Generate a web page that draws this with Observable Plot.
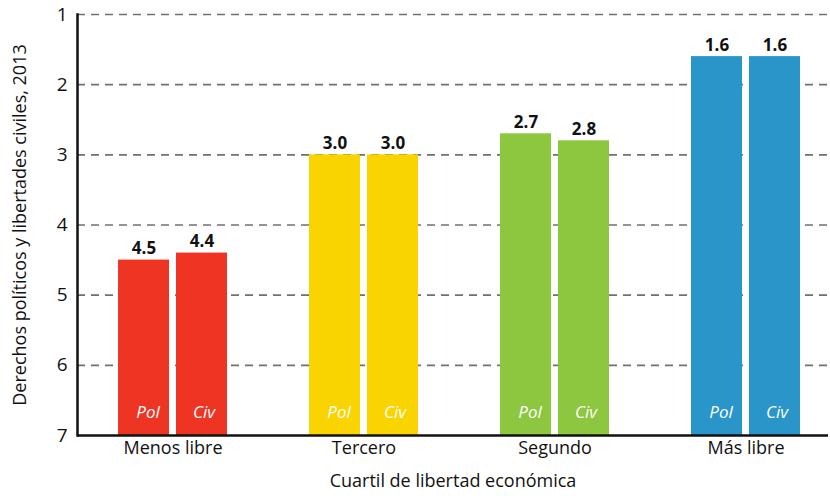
<!DOCTYPE html>
<html>
<head>
<meta charset="utf-8">
<script src="https://cdn.jsdelivr.net/npm/d3@7"></script>
<script src="https://cdn.jsdelivr.net/npm/@observablehq/plot@0.6"></script>
<style>
  html, body { margin: 0; padding: 0; background: #fff; }
  #chart { width: 830px; height: 496px; }
</style>
</head>
<body>
<div id="chart"></div>
<script>
const groups = ["Menos libre", "Tercero", "Segundo", "Más libre"];
const polValues = [4.5, 3.0, 2.7, 1.6];
const civValues = [4.4, 3.0, 2.8, 1.6];
const groupColors = ["#EE3524", "#FAD400", "#8DC63F", "#2A95C9"];
const yTicks = [1, 2, 3, 4, 5, 6, 7];
const gridTicks = [1, 2, 3, 4, 5, 6];
const seriesNames = ["Pol", "Civ"];
const xTitle = "Cuartil de libertad económica";
const yTitle = "Derechos políticos y libertades civiles, 2013";

const polData = groups.map((g, i) => ({group: g, kind: seriesNames[0], value: polValues[i], color: groupColors[i]}));
const civData = groups.map((g, i) => ({group: g, kind: seriesNames[1], value: civValues[i], color: groupColors[i]}));

const chart = Plot.plot({
  width: 830,
  height: 496,
  marginLeft: 77,
  marginRight: 2,
  marginTop: 14,
  marginBottom: 61,
  style: {fontFamily: "'Open Sans', 'Noto Sans', sans-serif", fontSize: "16px", color: "#111"},
  x: {
    domain: groups,
    paddingInner: 0.43,
    paddingOuter: 0.176,
    align: 0.59
  },
  y: {
    domain: [1, 7],
    reverse: true
  },
  marks: [
    Plot.ruleY(gridTicks, {stroke: "#707070", strokeWidth: 1.6, strokeDasharray: "8,6"}),
    Plot.barY(polData, {x: "group", y1: 7, y2: "value", fill: "color", insetRight: 58}),
    Plot.barY(civData, {x: "group", y1: 7, y2: "value", fill: "color", insetLeft: 58}),
    Plot.text(polData, {x: "group", y: "value", text: d => d.value.toFixed(1), dx: -29, dy: -6, lineAnchor: "bottom", fontWeight: "bold", fontSize: 17, fill: "#111"}),
    Plot.text(civData, {x: "group", y: "value", text: d => d.value.toFixed(1), dx: 29, dy: -6, lineAnchor: "bottom", fontWeight: "bold", fontSize: 17, fill: "#111"}),
    Plot.text(polData, {x: "group", y: 7, text: "kind", dx: -25, dy: -23, fill: "white", fontStyle: "italic", fontSize: 17}),
    Plot.text(civData, {x: "group", y: 7, text: "kind", dx: 31, dy: -23, fill: "white", fontStyle: "italic", fontSize: 17}),
    Plot.axisX({
      tickSize: 0,
      tickPadding: 6,
      fontSize: 18,
      fill: "#111",
      label: null
    }),
    Plot.axisY({
      ticks: yTicks,
      tickFormat: "d",
      tickSize: 0,
      tickPadding: 10,
      fontSize: 19,
      fill: "#111",
      label: null
    }),
    Plot.text([xTitle], {frameAnchor: "bottom", lineAnchor: "middle", dy: 46, fontSize: 18, fill: "#111"}),
    Plot.text([yTitle], {frameAnchor: "left", textAnchor: "middle", lineAnchor: "middle", rotate: -90, dx: -57, fontSize: 18, fill: "#111"}),
    Plot.ruleY([7], {stroke: "#111", strokeWidth: 2.5}),
    Plot.frame({anchor: "left", stroke: "#111", strokeWidth: 2.5})
  ]
});
document.getElementById("chart").appendChild(chart);
</script>
</body>
</html>
